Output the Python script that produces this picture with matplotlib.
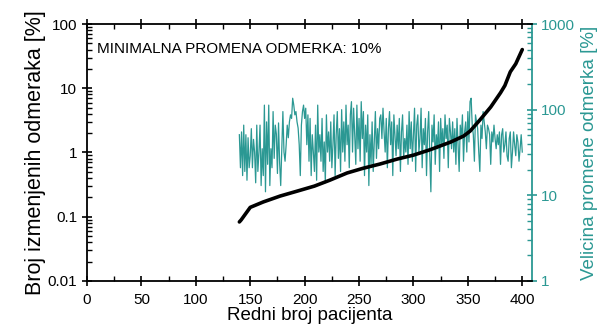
import numpy as np
import matplotlib.pyplot as plt
from matplotlib.ticker import LogLocator, FixedLocator, NullFormatter

plt.rcParams['font.family'] = ['Liberation Sans', 'DejaVu Sans']

TEAL = '#2b9893'

# broj izmenjenih odmeraka (crna kriva), procitano sa slike
pac_crna = [140, 141.6, 150, 162, 177.5, 193, 209, 223, 239, 254, 269, 285,
            300, 315, 334, 346, 352, 361, 371, 380, 384, 389, 394, 397, 400]
broj_izm = [0.083, 0.089, 0.14, 0.17, 0.21, 0.25, 0.30, 0.37, 0.48, 0.57,
            0.66, 0.79, 0.91, 1.10, 1.45, 1.8, 2.15, 3.2, 5.1, 8.5, 11, 18,
            24, 31, 40]

# velicina promene odmerka (teal), pacijenti 140..400
vel_a = [51, 21, 55, 17, 66, 19, 51, 15, 47, 21, 29, 60, 21, 45,
         32, 14, 66, 19, 32, 66, 13, 35, 17, 113, 11, 72, 23, 113, 13, 35,
         21, 95, 27, 66, 52, 18, 70, 24, 13, 35, 95, 32, 25, 39, 66, 47,
         72, 87, 79, 136, 113, 87, 95, 72, 61, 39, 17, 66, 95, 113, 79]
vel_b = [104, 39, 87, 25, 79, 17, 51, 32, 19, 66, 15, 113, 32, 51, 25, 79,
         19, 42, 14, 87, 32, 55, 25, 72, 21, 39, 87, 17, 51, 95, 27, 60, 19,
         100, 32, 72, 25, 113, 39, 66, 21, 87, 124, 32, 104, 51, 23, 113, 35,
         79, 25, 124, 46, 95, 17, 66, 32, 87, 13, 51, 23, 72, 19, 42, 95, 27,
         60, 35, 79]
vel_c = [87, 46, 104, 55, 32, 79, 21, 60, 95, 39, 72, 17, 87, 51, 29, 66,
         35, 79, 19, 55, 87, 27, 46, 32, 66, 23, 95, 35, 72, 25, 51, 104, 19,
         66, 87, 32, 46, 104, 21, 60, 39, 79, 17, 55, 95, 29, 11, 66, 42, 87,
         23, 51, 35, 72, 19, 79, 39, 60, 27, 87, 46, 66, 21, 79, 55, 35]
vel_d = [72, 32, 60, 23, 79, 39, 19, 66, 46, 87, 25, 55, 72, 32, 95, 42,
         124, 136, 66, 51, 25, 87, 72, 60, 32, 19, 66, 46, 95, 72, 55, 35, 66,
         60, 51, 23, 55, 42, 66, 46, 35, 51, 39, 55, 23, 51, 60, 32, 39, 55,
         29, 25, 46, 55, 21, 32, 55, 39, 29, 51, 42, 25, 35, 51, 32]
velicina = vel_a + vel_b + vel_c + vel_d
pac_teal = np.arange(140, 140 + len(velicina))

fig = plt.figure(figsize=(6.06, 3.27), dpi=100)
ax = fig.add_axes([0.1436, 0.1407, 0.7344, 0.7859])
ax2 = ax.twinx()

ax2.plot(pac_teal, velicina, color=TEAL, lw=0.9)
ax.plot(pac_crna, broj_izm, color='black', lw=2.6, solid_capstyle='round')
ax.set_zorder(ax2.get_zorder() + 1)
ax.patch.set_visible(False)

ax.set_xlim(0, 409)
ax.set_yscale('log')
ax.set_ylim(0.01, 100)
ax.set_yticks([0.01, 0.1, 1, 10, 100])
ax.set_yticklabels(['0.01', '0.1', '1', '10', '100'])
ax.yaxis.set_minor_locator(LogLocator(base=10, subs=np.arange(2, 10)))
ax.yaxis.set_minor_formatter(NullFormatter())
ax.set_xticks(np.arange(0, 401, 50))
ax.xaxis.set_minor_locator(FixedLocator(np.arange(25, 401, 50)))

ax2.set_yscale('log')
ax2.set_ylim(1, 1000)
ax2.set_yticks([1, 10, 100, 1000])
ax2.set_yticklabels(['1', '10', '100', '1000'])
ax2.yaxis.set_minor_locator(LogLocator(base=10, subs=np.arange(2, 10)))
ax2.yaxis.set_minor_formatter(NullFormatter())

ax.tick_params(axis='both', which='major', direction='inout', length=7,
               width=1.2, labelsize=11, top=True)
ax.tick_params(axis='both', which='minor', direction='in', length=3.5,
               width=1, top=True)
ax.tick_params(axis='x', which='both', pad=5)
ax2.tick_params(axis='y', which='major', direction='inout', length=7,
                width=1.2, labelsize=11, colors=TEAL, pad=3)
ax2.tick_params(axis='y', which='minor', direction='in', length=3.5,
                width=1, colors=TEAL)

for s in ['left', 'bottom', 'top']:
    ax.spines[s].set_linewidth(1.3)
for s in ['left', 'bottom', 'top']:
    ax2.spines[s].set_visible(False)
ax.spines['right'].set_visible(False)
ax2.spines['right'].set_color(TEAL)
ax2.spines['right'].set_linewidth(1.3)

ax.set_xlabel('Redni broj pacijenta', fontsize=13.5, labelpad=0)
ax.set_ylabel('Broj izmenjenih odmeraka [%]', fontsize=15.5, labelpad=1)
ax2.set_ylabel('Velicina promene odmerka [%]', fontsize=13.5, color=TEAL,
               labelpad=4)

ax.text(9, 0.903, 'MINIMALNA PROMENA ODMERKA: 10%', fontsize=11,
        transform=ax.get_xaxis_transform(), va='center', ha='left')

fig.savefig('out.png', dpi=100)
